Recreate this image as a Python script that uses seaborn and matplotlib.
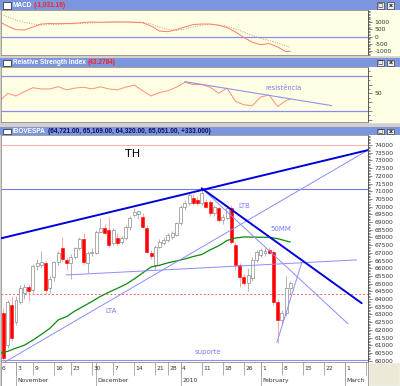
import numpy as np
import pandas as pd
import matplotlib
matplotlib.use("Agg")
import matplotlib.pyplot as plt
import seaborn as sns
from matplotlib.patches import Rectangle
from matplotlib.ticker import MultipleLocator, FixedLocator, FixedFormatter

sns.set_style("white")
plt.rcParams['font.family'] = ['DejaVu Sans']
plt.rcParams['axes.unicode_minus'] = False

# ---- data (trading-day index, 0 = 3 Nov 2009) ----
first_day = -3
opens = [63100, 61000, 63620, 62530, 63830, 64380, 64760, 64590, 66150, 66210,
         66360, 64700, 65400, 66400, 67300, 66540, 66320, 66750, 67320, 67900,
         66320, 67000, 66970, 68370, 68600, 68480, 67620, 67950, 67730, 67950,
         68700, 69460, 69500, 69350, 68600, 67010, 66210, 67400, 67620, 67830,
         68050, 68160, 68920, 70000, 70220, 70540, 70430, 70220, 70320, 70320,
         69570, 69890, 69130, 69260, 69890, 67510, 66210, 65450, 65020, 65350,
         66540, 66860, 67000, 67200, 67080, 63830, 62640, 63070, 64721]
highs = [63400, 63950, 64100, 64200, 64900, 65000, 65000, 66300, 66600, 67140,
         66500, 65500, 66500, 67100, 68050, 66700, 66900, 67400, 68000, 68300,
         67100, 67300, 68500, 69260, 68900, 69350, 68600, 68300, 68100, 68800,
         69400, 69900, 69800, 69600, 68800, 67200, 67500, 67900, 68000, 68300,
         68400, 69000, 70100, 70400, 70900, 70800, 70600, 71190, 70500, 70400,
         70100, 70000, 69500, 70000, 70100, 67700, 66350, 65600, 66000, 66700,
         67200, 67300, 67300, 67400, 67200, 64000, 63300, 65500, 65169]
lows = [59850, 60800, 61300, 62300, 63700, 64000, 63900, 64400, 65900, 66000,
        64300, 64400, 65200, 66200, 66400, 65900, 65300, 66600, 67200, 66300,
        65700, 66800, 66900, 68300, 68200, 67400, 67500, 67500, 67600, 67800,
        68500, 69300, 69200, 68600, 67000, 66600, 65890, 67300, 67500, 67700,
        67900, 68100, 68800, 69800, 70100, 70100, 70100, 70100, 69900, 69400,
        69400, 69000, 68900, 69100, 67600, 65900, 64800, 64900, 64500, 65200,
        66400, 66700, 66800, 66900, 63600, 61170, 62400, 62900, 64320]
closes = [60150, 63830, 61450, 63940, 64700, 64800, 64500, 66150, 66360, 66430,
          64590, 65300, 66400, 67000, 66600, 66320, 66750, 67320, 67900, 66430,
          67010, 67080, 68370, 68630, 68310, 67510, 68480, 67620, 67950, 68700,
          69260, 69680, 69700, 68700, 67080, 66800, 67400, 67730, 67830, 68160,
          68270, 68920, 70000, 70220, 70760, 70220, 70260, 70870, 70000, 69570,
          70000, 69130, 69350, 69890, 67730, 66210, 65450, 65020, 65560, 66540,
          67080, 67190, 67150, 67000, 63830, 62640, 63070, 64700, 65051]

osc_days = list(range(-4, 65, 2)) + [65]
macd = [1056, 740, 480, 458, 670, 880, 915, 900, 915, 930, 985, 1020, 1000, 1020,
        1020, 1020, 1000, 970, 740, 387, 338, 493, 670, 845, 880, 880, 790, 634,
        317, -70, -408, -577, -493, -740, -1070, -1031]
signal = [1633, 1373, 1162, 1000, 880, 810, 830, 860, 880, 900, 930, 950, 985, 1000,
          1020, 1020, 1020, 1000, 880, 670, 493, 437, 528, 670, 810, 845, 810, 718,
          528, 317, 70, -141, -282, -458, -669, -760]
rsi = [40.6, 50, 47, 52, 56.4, 55, 55, 57.5, 54, 56, 57, 55, 57.5, 55, 54, 57, 59.4,
       53, 47, 51, 53, 57, 62.5, 60, 60, 57, 50, 56, 41, 37, 36, 46, 48, 35, 42, 43.3]
mm50 = [60460, 60600, 60810, 61000, 61330, 61700, 62090, 62640, 62860, 63230, 63530,
        63840, 64170, 64440, 64690, 64950, 65300, 65690, 66080, 66190, 66350, 66470,
        66600, 66760, 66890, 67190, 67450, 67800, 67960, 68030, 68020, 68010, 68010,
        67920, 67770, 67700]

tick_days = [-5, 0, 4, 9, 13, 18, 23, 28, 33, 36, 39, 44, 49, 54, 58, 63, 68, 73, 78, 83]
tick_labels = ["6", "3", "9", "16", "23", "30", "7", "14", "21", "28", "4", "11",
               "18", "26", "1", "8", "15", "22", "1", "8"]
month_days = [0, 19, 39, 58, 78]
month_labels = ["November", "December", "2010", "February", "March"]

# trend lines: (days, values)
canal_top = ([-3.8, 83.4], [67925, 73670])
lta = ([-3.0, 83.4], [59850, 73670])
ltb = ([44, 81.9], [71190, 63730])
ltb_fast = ([44, 78.7], [71190, 62380])
neckline = ([11.9, 80.7], [65560, 66540])
rebound = ([61.8, 67.7], [61170, 66360])
rsi_resist = ([40, 74.8], [63.3, 36.1])

# ---- layout helpers (pixel based) ----
W, H = 400, 386
fig = plt.figure(figsize=(W / 100, H / 100), dpi=100, facecolor="#d4d0c8")

def px_ax(x0, y0, x1, y1):
    return fig.add_axes([x0 / W, 1 - y1 / H, (x1 - x0) / W, (y1 - y0) / H])

def px_rect(x0, y0, x1, y1, color, z=-1, **kw):
    fig.add_artist(Rectangle((x0 / W, 1 - y1 / H), (x1 - x0) / W, (y1 - y0) / H,
                             transform=fig.transFigure, facecolor=color, zorder=z, **kw))

BAR = "#7b96dc"
CREAM = "#ffffe4"
LBLUE = "#8a8af0"
TXT = "#333333"
TITLE_FONT = ["Liberation Sans", "DejaVu Sans"]

def title_bar(y0, y1, name, value, vcolor):
    ax = px_ax(0, y0, 400, y1)
    ax.set_facecolor(BAR)
    ax.set_xlim(0, 400)
    ax.set_ylim(y1, y0)
    for s in ax.spines.values():
        s.set_visible(False)
    ax.set_xticks([])
    ax.set_yticks([])
    ax.add_patch(Rectangle((3, y0 + 2), 8, (y1 - y0) - 3.5, facecolor="white",
                           edgecolor="#202020", linewidth=0.5))
    t = ax.text(13, (y0 + y1) / 2 + 0.3, name, fontsize=4.7, color="white",
                fontweight="bold", va="center", ha="left", family=TITLE_FONT)
    ax.annotate(value, xy=(1, 0.5), xycoords=t, xytext=(1.2, 0),
                textcoords="offset points", fontsize=4.7, color=vcolor,
                fontweight="bold", va="center", ha="left", family=TITLE_FONT)
    for bx in (377, 387):
        ax.add_patch(Rectangle((bx, y0 + 1.5), 7, (y1 - y0) - 3, facecolor="#e8e8e8",
                               edgecolor="#404040", linewidth=0.5))
    ax.text(380.5, (y0 + y1) / 2 + 0.3, "□", fontsize=4, ha="center", va="center", color="#202020")
    ax.text(390.5, (y0 + y1) / 2 + 0.3, "x", fontsize=4.5, ha="center", va="center",
            color="#202020", fontweight="bold")
    return ax

def style_right_axis(ax):
    ax.yaxis.tick_right()
    ax.tick_params(axis="y", which="both", direction="out", colors="#555555",
                   labelsize=4.3, labelcolor=TXT, pad=1.5, width=0.5)
    ax.tick_params(axis="y", which="major", length=3)
    ax.tick_params(axis="y", which="minor", length=1.5)
    ax.set_xticks([])
    for s in ax.spines.values():
        s.set_color("#909090")
        s.set_linewidth(0.6)
    ax.spines["right"].set_color("#404040")

# backgrounds of right-hand scale strips
px_rect(368, 10, 400, 55, CREAM)
px_rect(368, 67, 400, 122, CREAM)
px_rect(368, 135, 400, 362, "white")
px_rect(368, 362, 400, 386, "#ece9d8")

xlim = (-3.55, 83.4)

# ---- MACD panel ----
title_bar(0, 10, "MACD", "(-1,031.16)", "#ff2020")
ax_m = px_ax(1, 10, 368, 55)
ax_m.set_facecolor(CREAM)
ax_m.axhline(0, color=LBLUE, lw=0.9)
sns.lineplot(x=osc_days, y=signal, ax=ax_m, color="#c09a90", lw=0.7, linestyle=(0, (1, 1.5)))
sns.lineplot(x=osc_days, y=macd, ax=ax_m, color="#ff7a6a", lw=0.7)
ax_m.set_xlim(*xlim)
ax_m.set_ylim(-1302, 1866)
ax_m.yaxis.set_major_locator(FixedLocator([-1000, -500, 0, 500, 1000]))
ax_m.yaxis.set_minor_locator(MultipleLocator(100))
style_right_axis(ax_m)
ax_m.set_ylabel("")

# ---- RSI panel ----
title_bar(58, 67, "Relative Strength Index", "(43.2784)", "#ff2020")
ax_r = px_ax(1, 67, 368, 122)
ax_r.set_facecolor(CREAM)
ax_r.axhline(70, color=LBLUE, lw=0.9)
ax_r.axhline(30, color=LBLUE, lw=0.9)
sns.lineplot(x=osc_days, y=rsi, ax=ax_r, color="#ff8c7a", lw=0.7)
sns.lineplot(x=rsi_resist[0], y=rsi_resist[1], ax=ax_r, color="#9090ee", lw=0.8)
ax_r.text(63.3, 56.1, "resistência", fontsize=4.8, color="#7b7bf0", ha="center", va="center")
ax_r.set_xlim(*xlim)
ax_r.set_ylim(17.5, 79.9)
ax_r.yaxis.set_major_locator(FixedLocator([20, 30, 40, 50, 60, 70]))
ax_r.yaxis.set_major_formatter(FixedFormatter(["", "", "", "50", "", ""]))
ax_r.yaxis.set_minor_locator(MultipleLocator(5))
style_right_axis(ax_r)
ax_r.set_ylabel("")

# ---- IBOVESPA panel ----
title_bar(127, 135, "IBOVESPA",
          "(64,721.00, 65,169.00, 64,320.00, 65,051.00, +333.000)", "#101060")
ax = px_ax(1, 135, 368, 362)
ax.set_facecolor("white")

ax.axhline(74000, color="#ffb4b4", lw=0.8)
ax.axhline(71120, color="#7878ee", lw=0.8)
ax.axhline(64330, color="#ff6060", lw=0.7, linestyle=(0, (2, 2)))
ax.axhline(60050, color="#9090ff", lw=0.8)

days = np.arange(first_day, first_day + len(opens))
o = np.array(opens)
c = np.array(closes)
up = c >= o
ax.vlines(days[up], np.array(lows)[up], np.array(highs)[up], color="#a8a8a8", lw=0.6, zorder=3)
ax.vlines(days[~up], np.array(lows)[~up], np.array(highs)[~up], color="#ff9a9a", lw=0.6, zorder=3)
body = np.maximum(np.abs(c - o), 40)
ax.bar(days[up], body[up], bottom=o[up], width=0.7, color="white",
       edgecolor="#8c8c8c", linewidth=0.5, zorder=4)
ax.bar(days[~up], body[~up], bottom=c[~up], width=0.7, color="#ff0000",
       edgecolor="#ff0000", linewidth=0.4, zorder=4)

sns.lineplot(x=osc_days, y=mm50, ax=ax, color="#0a8a0a", lw=0.9, zorder=5)
sns.lineplot(x=lta[0], y=lta[1], ax=ax, color="#8c8cff", lw=0.7, zorder=6)
sns.lineplot(x=neckline[0], y=neckline[1], ax=ax, color="#8c8cff", lw=0.7, zorder=6)
sns.lineplot(x=rebound[0], y=rebound[1], ax=ax, color="#8c8cff", lw=0.7, zorder=6)
sns.lineplot(x=ltb_fast[0], y=ltb_fast[1], ax=ax, color="#8c8cff", lw=0.7, zorder=6)
sns.lineplot(x=canal_top[0], y=canal_top[1], ax=ax, color="#0000dd", lw=1.4, zorder=7)
sns.lineplot(x=ltb[0], y=ltb[1], ax=ax, color="#0000dd", lw=1.4, zorder=7)

ax.text(27.7, 73416, "TH", fontsize=8, color="black", ha="center", va="center")
lab = dict(fontsize=5, color="#7b7bf0", ha="center", va="center", zorder=8)
ax.text(54, 70040, "LTB", **lab)
ax.text(62.8, 68550, "50MM", **lab)
ax.text(22.5, 63230, "LTA", **lab)
ax.text(45.5, 60565, "suporte", **lab)

ax.set_xlim(*xlim)
ax.set_ylim(59909, 74651)
ax.yaxis.set_major_locator(FixedLocator(list(range(60000, 74001, 500))))
ax.yaxis.set_minor_locator(MultipleLocator(100))
ax.yaxis.set_major_formatter(matplotlib.ticker.FuncFormatter(lambda v, p: f"{v:.0f}"))
style_right_axis(ax)
ax.set_ylabel("")

# ---- date strip ----
ax_d = px_ax(1, 362, 368, 386)
ax_d.set_facecolor("white")
ax_d.set_xlim(*xlim)
ax_d.set_ylim(0, 1)
ax_d.set_xticks([])
ax_d.set_yticks([])
for s in ax_d.spines.values():
    s.set_color("#909090")
    s.set_linewidth(0.6)
ax_d.vlines(tick_days, 0.45, 1, color="#a0a0a0", lw=0.6)
ax_d.vlines(month_days, 0, 1, color="#a0a0a0", lw=0.6)
for d, s in zip(tick_days, tick_labels):
    x = max(d + 0.35, xlim[0] + 0.15)
    ax_d.text(x, 0.72, s, fontsize=4.3, color=TXT, ha="left", va="center", clip_on=True)
for d, s in zip(month_days, month_labels):
    ax_d.text(d + 0.35, 0.22, s, fontsize=4.3, color=TXT, ha="left", va="center", clip_on=True)

fig.savefig("out.png", dpi=100, facecolor=fig.get_facecolor())
